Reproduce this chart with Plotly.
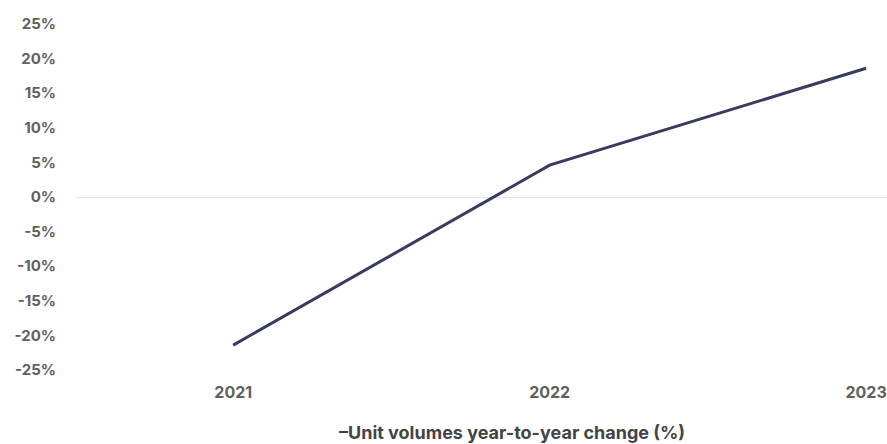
import plotly.graph_objects as go

years = ["2021", "2022", "2023"]
change_pct = [-21.4, 4.6, 18.6]
y_ticks = [25, 20, 15, 10, 5, 0, -5, -10, -15, -20, -25]
y_tick_labels = [f"{v}%" for v in y_ticks]
series_name = "Unit volumes year-to-year change (%)"

line_color = "#373c5e"
x_pos = list(range(len(years)))

fig = go.Figure()
fig.add_trace(go.Scatter(
    x=x_pos, y=change_pct, mode="lines", name=series_name,
    line=dict(color=line_color, width=3), showlegend=False,
))

fig.update_layout(
    width=887, height=444,
    margin=dict(l=75, r=0, t=24, b=74),
    paper_bgcolor="white", plot_bgcolor="white",
    font=dict(family="Inter, Roboto, sans-serif", color="#666666"),
    xaxis=dict(
        range=[-0.5, 2.066], tickvals=x_pos, ticktext=years,
        showgrid=False, zeroline=False, showline=False,
        ticks="outside", ticklen=8, tickcolor="rgba(0,0,0,0)",
        tickfont=dict(size=16, color="#5f5f5f", weight="bold"),
    ),
    yaxis=dict(
        range=[-25, 25], tickvals=y_ticks, ticktext=y_tick_labels,
        showgrid=False, zeroline=True, zerolinecolor="#e6e6e6", zerolinewidth=1,
        showline=False,
        ticks="outside", ticklen=15, tickcolor="rgba(0,0,0,0)",
        tickfont=dict(size=15, color="#5f5f5f", weight="bold"),
    ),
    annotations=[dict(
        xref="paper", yref="paper", x=(512 - 75) / 812, y=-62 / 346,
        xanchor="center", yanchor="middle", showarrow=False,
        text=f"<span style='color:{line_color}'>–</span>{series_name}",
        font=dict(size=18, color="#444444", weight="bold"),
    )],
)

fig.write_html("out.html")
